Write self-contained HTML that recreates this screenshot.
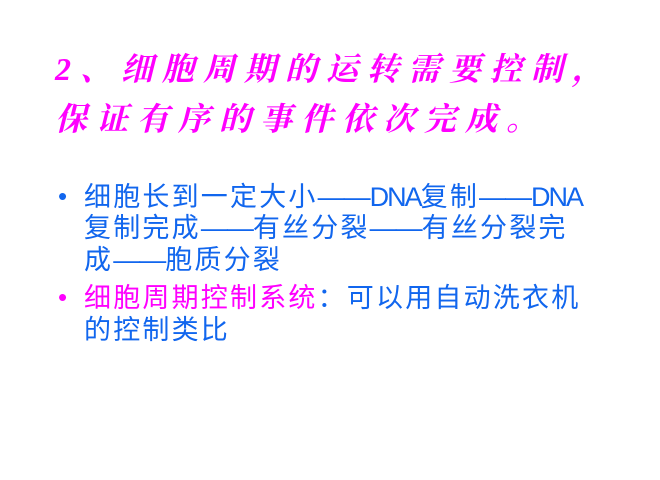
<!DOCTYPE html>
<html><head><meta charset="utf-8"><style>
body{margin:0;width:660px;height:480px;background:#fff;position:relative;overflow:hidden;font-family:"Liberation Sans","Noto Sans CJK SC",sans-serif}
.t{position:absolute;left:55px;color:#ff00ff;font-size:32px;font-weight:bold;letter-spacing:9px;white-space:nowrap;font-family:"Liberation Serif","Noto Serif CJK SC",serif;font-style:italic}
.l{position:absolute;left:84px;font-size:27px;line-height:30px;white-space:nowrap;color:#1166ee;letter-spacing:2.2px}
.l i{font-style:normal;letter-spacing:-2px}
.l s{text-decoration:none;letter-spacing:-1px}
.b{position:absolute;left:58px;font-size:26px;line-height:30px}
</style></head><body>
<div class="t" style="top:44px">2、细胞周期的运转需要控制，</div>
<div class="t" style="top:94px">保证有序的事件依次完成。</div>
<div class="b" style="top:181px;color:#1166ee">•</div>
<div class="l" style="top:182px">细胞长到一定大小<s>——</s><i>DNA</i>复制<s>——</s><i>DNA</i></div>
<div class="l" style="top:213px">复制完成<s>——</s>有丝分裂<s>——</s>有丝分裂完</div>
<div class="l" style="top:245px">成<s>——</s>胞质分裂</div>
<div class="b" style="top:282px;color:#ff00ff">•</div>
<div class="l" style="top:283px"><span style="color:#ff00ff">细胞周期控制系统</span>：可以用自动洗衣机</div>
<div class="l" style="top:315px">的控制类比</div>
</body></html>
